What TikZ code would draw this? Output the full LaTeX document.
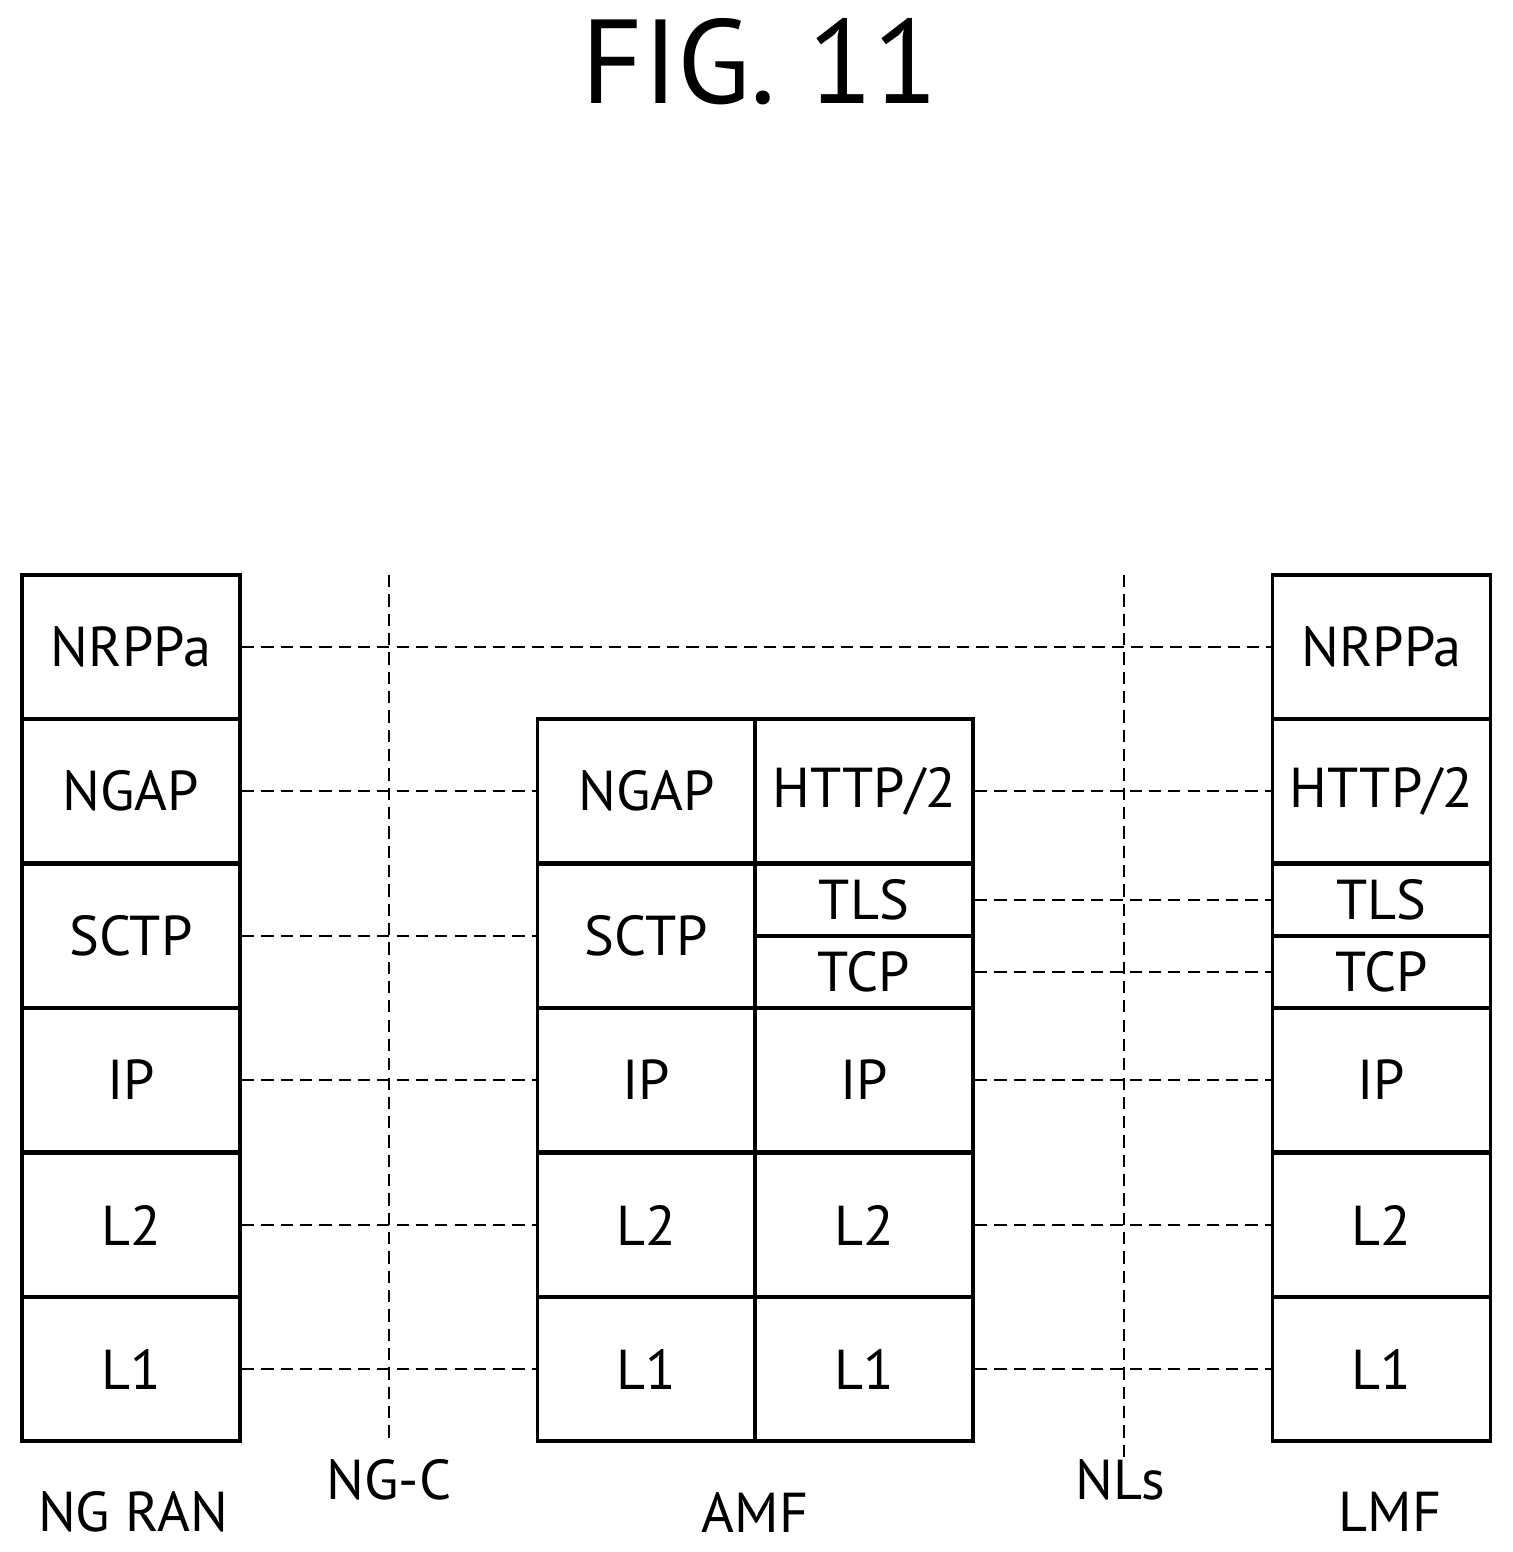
\documentclass[tikz,border=0pt]{standalone}
\usepackage{fontspec}
\setmainfont{PT Sans}
\usetikzlibrary{positioning}
\tikzset{
  cell/.style={draw, line width=2.2pt, minimum width=4.36cm, minimum height=2.88cm, inner sep=0pt, font=\fontsize{32}{36}\selectfont},
  half/.style={cell, minimum height=1.44cm},
  link/.style={dashed, line width=0.8pt, dash pattern=on 7pt off 4pt},
  lbl/.style={font=\fontsize{32}{36}\selectfont}
}
\begin{document}
\begin{tikzpicture}[x=0.02cm, y=-0.02cm]
	\useasboundingbox (0,0) rectangle (1513,1552);
	\node[font=\fontsize{68}{74}\selectfont] (fig) at (760,62) {FIG. 11};
	% NG RAN stack
	\node[cell] (r1) at (131,647) {NRPPa};
	\node[cell] (r2) at (131,791) {NGAP};
	\node[cell] (r3) at (131,936) {SCTP};
	\node[cell] (r4) at (131,1080) {IP};
	\node[cell] (r5) at (131,1225) {L2};
	\node[cell] (r6) at (131,1369) {L1};
	% AMF stack
	\node[cell] (a2) at (646.5,791) {NGAP};
	\node[cell] (a3) at (646.5,936) {SCTP};
	\node[cell] (a4) at (646.5,1080) {IP};
	\node[cell] (a5) at (646.5,1225) {L2};
	\node[cell] (a6) at (646.5,1369) {L1};
	\node[cell] (b2) at (864,791) {HTTP/2};
	\node[half] (b3) at (864,900) {TLS};
	\node[half] (b3b) at (864,972) {TCP};
	\node[cell] (b4) at (864,1080) {IP};
	\node[cell] (b5) at (864,1225) {L2};
	\node[cell] (b6) at (864,1369) {L1};
	% LMF stack
	\node[cell] (l1) at (1381.5,647) {NRPPa};
	\node[cell] (l2) at (1381.5,791) {HTTP/2};
	\node[half] (l3) at (1381.5,900) {TLS};
	\node[half] (l3b) at (1381.5,972) {TCP};
	\node[cell] (l4) at (1381.5,1080) {IP};
	\node[cell] (l5) at (1381.5,1225) {L2};
	\node[cell] (l6) at (1381.5,1369) {L1};
	% peer links
	\draw[link] (r1) -- (l1);
	\draw[link] (r2) -- (a2);
	\draw[link] (r3) -- (a3);
	\draw[link] (r4) -- (a4);
	\draw[link] (r5) -- (a5);
	\draw[link] (r6) -- (a6);
	\draw[link] (b2) -- (l2);
	\draw[link] (b3) -- (l3);
	\draw[link] (b3b) -- (l3b);
	\draw[link] (b4) -- (l4);
	\draw[link] (b5) -- (l5);
	\draw[link] (b6) -- (l6);
	% interfaces
	\coordinate (ngcTop) at (389,575);
	\coordinate (ngcBot) at (389,1441);
	\coordinate (nlsTop) at (1124,575);
	\coordinate (nlsBot) at (1124,1458);
	\draw[link] (ngcTop) -- (ngcBot);
	\draw[link] (nlsTop) -- (nlsBot);
	\node[lbl] (ngc) at (389,1480) {NG-C};
	\node[lbl] (nls) at (1120,1480) {NLs};
	\node[lbl] (ran) at (133,1512) {NG RAN};
	\node[lbl] (amf) at (755,1512) {AMF};
	\node[lbl] (lmf) at (1390,1512) {LMF};
\end{tikzpicture}
\end{document}
